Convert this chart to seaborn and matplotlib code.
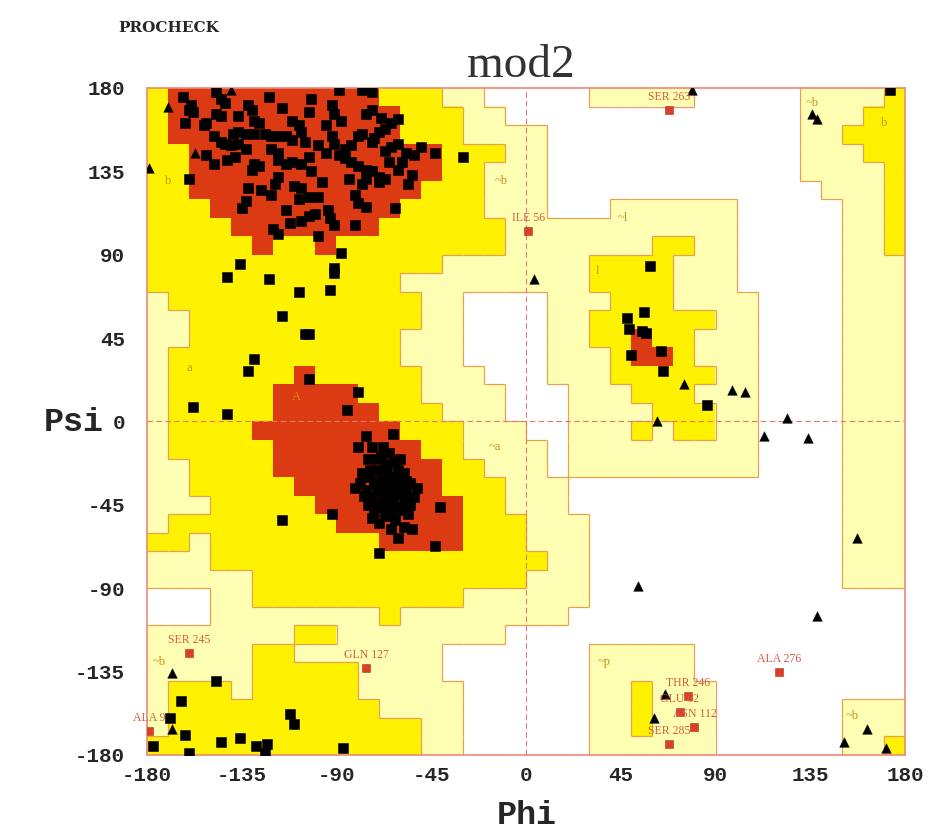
import numpy as np
import matplotlib
matplotlib.use("Agg")
import matplotlib.pyplot as plt
from matplotlib.colors import ListedColormap
from matplotlib.collections import LineCollection
import seaborn as sns

# ---------------- data ----------------
# Region map: rows from psi 180 (top) to -180, columns phi -180..180, 10-degree cells
# R = core, Y = allowed, L = generously allowed, . = disallowed
region_rows = [
    "YRRRRRRRRRRYYYLL.....LLLLL.....LLLLY",
    "YRRRRRRRRRRRYYYLL..............LLLYY",
    "YRRRRRRRRRRRYYYLLLL............LLYYY",
    "YYRRRRRRRRRRRRYYYLL............LLLYY",
    "YYRRRRRRRRRRRRYYLLL............LLLLY",
    "YYRRRRRRRRRRRYYYLLL.............LLLY",
    "YYYRRRRRRRRRYYYYLLL...LLLLLL.....LLY",
    "YYYYRRRRRRRYYYYYYLLLLLLLLLLL.....LLY",
    "YYYYYRYYRYYYYYYYYLLLLLLLYYLL.....LLY",
    "YYYYYYYYYYYYYYLLLLLLLYYYYLLL.....LLL",
    "YYYYYYYYYYYYLLLLLLLLLYYYYLLL.....LLL",
    "LYYYYYYYYYYYYLL....LLLYYYLLLL....LLL",
    "LLYYYYYYYYYYYLL....LLYYYYYYLL....LLL",
    "LLYYYYYYYYYYLLL....LLYYRYYLLL....LLL",
    "LYYYYYYYYYYYLLL....LLLYRRYLLL....LLL",
    "LYYYYYYRYYYYYLLL...LLLYYYYYLL....LLL",
    "LYYYYYRRRRYYYLLLL...LLLYYYLLL....LLL",
    "LYYYYYRRRRRYYYLLL...LLLLYYYLL....LLL",
    "LYYYYRRRRRRRYYYLLL..LLLYLYYLL....LLL",
    "LYYYYYRRRRRRRYYLLLL.LLLLLLLLL....LLL",
    "LLYYYYRRRRRRRRYYLLL.LLLLLLLLL....LLL",
    "LLYYYYYRRRRRRRYYYLLL.............LLL",
    "LLLYYYYYRRRRRRRYYLLL.............LLL",
    "LYYYYYYYYRRRRRRYYYLLL............LLL",
    "YYLYYYYYYYYRRRRYYYLLL............LLL",
    "LLLYYYYYYYYYYYYYYYYLL............LLL",
    "LLLLLYYYYYYYYYYYYYLLL............LLL",
    "...LLYYYYYYYYYYLLLLLL...............",
    "...LLLLLLLLYLLLLLLLL................",
    "LLLLLLLYYLLLLLLLL...................",
    "LLLLLYYLLLLLLL.......LLLLL..........",
    "LLLLLYYYYYLLLL.......LLLLL..........",
    "LYYYLYYYYYLLLLL......LLYLLL.........",
    "LYYYYYYYYYYLLLL......LLYLLL......LLL",
    "LYYYYYYYYYYYYLL......LLYLLL......LLL",
    "YYYYYYYYYYYYYLL......LLLLLL......LLY",
]

# Non-glycine residues (black squares)
res_phi = [
    -147, -145, -143, -163, -159, -160, -158, -132, -130, -122, -116, -103, -102, -92, -91, -89, -78, -73,
    -76, -73, -88, -95, -111, -108, -107, -162, -153, -152, -147, -145, -137, -127, -129, -69, -61, -64,
    -70, -67, -78, -80, -73, -72, -61, -64, -67, -57, -50, -53, -43, -30, -92, -91, -83, -86, -99, -105,
    -111, -114, -118, -121, -124, -129, -133, -137, -139, -148, -145, -143, -140, -137, -148, -152, -142,
    -138, -133, -129, -130, -127, -121, -118, -118, -114, -111, -107, -103, -102, -95, -89, -86, -83, -80,
    -76, -73, -70, -67, -70, -76, -78, -84, -61, -54, -56, -59, -65, -118, -119, -121, -132, -126, -133,
    -110, -107, -108, -103, -99, -97, -81, -80, -76, -62, -135, -114, -107, -103, -100, -112, -120, -118,
    -94, -93, -91, -81, -99, -88, -160,
    -136, -142, -122, -108, -93, -91, -91, -116, -105, -103, -129, -132, -103, -80, -85, -158, -142,
    -76, -63, -80, -73, -68, -65, -71, -67, -74, -61, -58, -69, -65, -60, -55, -79, -81, -76, -71, -66,
    -61, -57, -77, -73, -68, -63, -58, -53, -69, -65, -60, -55, -67, -64, -72, -66, -63, -69, -61, -74,
    -69, -62, -57, -75, -66, -62, -70, -59, -64, -67, -72, -41, -92, -64, -58, -54, -61, -43, -70, -116,
    -75, -60, -78, -52, -56, -70, -62, -73, -59, -64, -68, -72, -57,
    59, 48, 56, 49, 55, 57, 50, 64, 65, 86, 173,
    -147, -164, -169, -162, -177, -160, -145, -136, -128, -123, -124, -112, -110, -87,
]
res_psi = [
    178, 174, 172, 175, 171, 168, 167, 171, 168, 175, 169, 167, 174, 171, 166, 179, 179, 178,
    166, 168, 162, 160, 162, 160, 156, 161, 160, 161, 166, 165, 165, 161, 162, 164, 163, 161,
    156, 158, 155, 154, 151, 153, 150, 148, 146, 145, 148, 144, 145, 143, 154, 150, 149, 147, 149, 151,
    152, 154, 154, 154, 155, 155, 155, 156, 155, 154, 151, 150, 149, 150, 139, 144, 141,
    143, 147, 139, 136, 138, 147, 145, 141, 139, 140, 139, 143, 135, 145, 144, 142, 140, 138,
    136, 135, 132, 131, 129, 131, 128, 131, 136, 133, 128, 140, 140, 132, 128, 122, 126, 125, 119,
    127, 126, 120, 121, 121, 129, 122, 118, 116, 115, 115, 114, 108, 111, 112, 107, 104, 101,
    114, 110, 106, 106, 100, 91, 131,
    85, 78, 77, 70, 71, 83, 80, 57, 47, 47, 34, 27, 23, 16, 6, 8, 4,
    -8, -7, -14, -14, -14, -17, -20, -23, -26, -26, -28, -30, -31, -33, -33, -33, -36, -37, -37, -37,
    -38, -37, -40, -41, -42, -43, -42, -41, -46, -47, -46, -45, -51, -50, -49, -26, -35, -33, -48, -30,
    -19, -22, -32, -45, -41, -30, -26, -39, -44, -35, -33, -46, -50, -58, -57, -58, -63, -67, -71, -53,
    -20, -20, -28, -36, -50, -55, -53, -52, -30, -38, -38, -44, -44,
    84, 56, 59, 50, 49, 48, 36, 38, 27, 9, 179,
    -140, -151, -160, -169, -175, -179, -173, -171, -175, -174, -179, -158, -163, -176,
]

# Glycine residues (black triangles)
gly_phi = [-140, -170, -157, -179, 75, 98, 104, 62, 4, 79, 136, 138, 124, 113, 134, 157, 138, 66, 61,
           162, 151, 171, 53, -168, -168]
gly_psi = [179, 170, 145, 137, 20, 17, 16, 0, 77, 179, 166, 163, 2, -8, -9, -63, -105, -147, -160,
           -166, -173, -176, -89, -136, -166]

# Residues in generously allowed / disallowed regions (labelled red squares)
lab_names = ["SER 263", "ILE 56", "SER 245", "GLN 127", "ALA 276", "ALA 9",
             "THR 246", "GLU 62", "ASN 112", "SER 285"]
lab_phi = [68, 1, -160, -76, 120, -179, 77, 73, 80, 68]
lab_psi = [168, 103, -125, -133, -135, -167, -148, -157, -165, -174]

# Region labels
reg_names = ["b", "~b", "~l", "l", "a", "A", "~a", "~b", "~p", "~b", "~b", "b"]
reg_phi = [-170, -12, 46, 34, -160, -109, -15, -174, 37, 155, 136, 170]
reg_psi = [130, 130, 110, 81, 29, 13, -14, -130, -130, -159, 172, 161]

ticks = [-180, -135, -90, -45, 0, 45, 90, 135, 180]

# ---------------- style ----------------
sns.set_style("white")
plt.rcParams["font.family"] = ["DejaVu Sans"]

RED = "#dc3a12"
YEL = "#fff200"
LYEL = "#ffffb4"
code = {".": 0, "L": 1, "Y": 2, "R": 3}
grid = np.array([[code[ch] for ch in row] for row in region_rows])
cmap = ListedColormap(["#ffffff", LYEL, YEL, RED])

fig = plt.figure(figsize=(9.36, 8.31), dpi=100)
ax = fig.add_axes([147 / 936, 1 - 755 / 831, 758 / 936, 667 / 831])

ax.imshow(grid, extent=(-180, 180, -180, 180), origin="upper", cmap=cmap, vmin=-0.5, vmax=3.5,
          aspect="auto", interpolation="nearest", zorder=0)

# region boundary lines (computed from the grid)
segs = []
nr, nc = grid.shape
for r in range(nr):
    for c in range(nc):
        v = grid[r, c]
        if c + 1 < nc:
            w = grid[r, c + 1]
            if v != w and v != 3 and w != 3:
                x = -180 + 10 * (c + 1)
                segs.append([(x, 180 - 10 * (r + 1)), (x, 180 - 10 * r)])
        if r + 1 < nr:
            w = grid[r + 1, c]
            if v != w and v != 3 and w != 3:
                y = 180 - 10 * (r + 1)
                segs.append([(-180 + 10 * c, y), (-180 + 10 * (c + 1), y)])
ax.add_collection(LineCollection(segs, colors="#e8a050", linewidths=0.9, zorder=1))

ax.axhline(0, color="#e07a6a", lw=0.8, ls=(0, (5, 3)), zorder=1)
ax.axvline(0, color="#e07a6a", lw=0.8, ls=(0, (5, 3)), zorder=1)

# residues
sns.scatterplot(x=res_phi, y=res_psi, marker="s", s=46, color="black", edgecolor="black",
                linewidth=0.4, ax=ax, zorder=3, legend=False)
sns.scatterplot(x=gly_phi, y=gly_psi, marker="^", s=48, color="black", edgecolor="black",
                linewidth=0.3, ax=ax, zorder=3, legend=False)
sns.scatterplot(x=lab_phi, y=lab_psi, marker="s", s=32, color="#d8402a", edgecolor="#b03020",
                linewidth=0.4, ax=ax, zorder=4, legend=False)
for name, p, q in zip(lab_names, lab_phi, lab_psi):
    ax.annotate(name, (p, q), xytext=(0, 5), textcoords="offset points", ha="center", va="bottom",
                color="#d85a44", fontsize=8.5, family="Liberation Serif", zorder=5,
                annotation_clip=False)

for name, p, q in zip(reg_names, reg_phi, reg_psi):
    ax.text(p, q, name, ha="center", va="center", color="#c8901e", fontsize=9,
            family="Liberation Serif", zorder=2)

ax.set_xlim(-180, 180)
ax.set_ylim(-180, 180)
ax.set_xticks(ticks)
ax.set_yticks(ticks)
ax.set_xticklabels([str(t) for t in ticks], family="Liberation Mono", weight="bold", fontsize=15)
ax.set_yticklabels([str(t) for t in ticks], family="Liberation Mono", weight="bold", fontsize=15)
ax.tick_params(axis="x", length=4, pad=4, color="#d07868", width=1)
ax.tick_params(axis="y", length=4, pad=12, color="#d07868", width=1)
ax.set_xlabel("")
ax.set_ylabel("")
for sp in ax.spines.values():
    sp.set_color("#e88a78")
    sp.set_linewidth(1.2)

fig.text(74 / 936, 1 - 422 / 831, "Psi", ha="center", va="center", family="Liberation Mono",
         weight="bold", fontsize=24)
fig.text(527 / 936, 1 - 815 / 831, "Phi", ha="center", va="center", family="Liberation Mono",
         weight="bold", fontsize=24)
fig.text(521 / 936, 1 - 66 / 831, "mod2", ha="center", va="center", family="Liberation Serif",
         fontsize=34, color="#333333")
fig.text(118 / 936, 1 - 28 / 831, "PROCHECK", ha="left", va="center", family="DejaVu Serif",
         weight="bold", fontsize=11)

fig.savefig("out.png", dpi=100, facecolor="white")
